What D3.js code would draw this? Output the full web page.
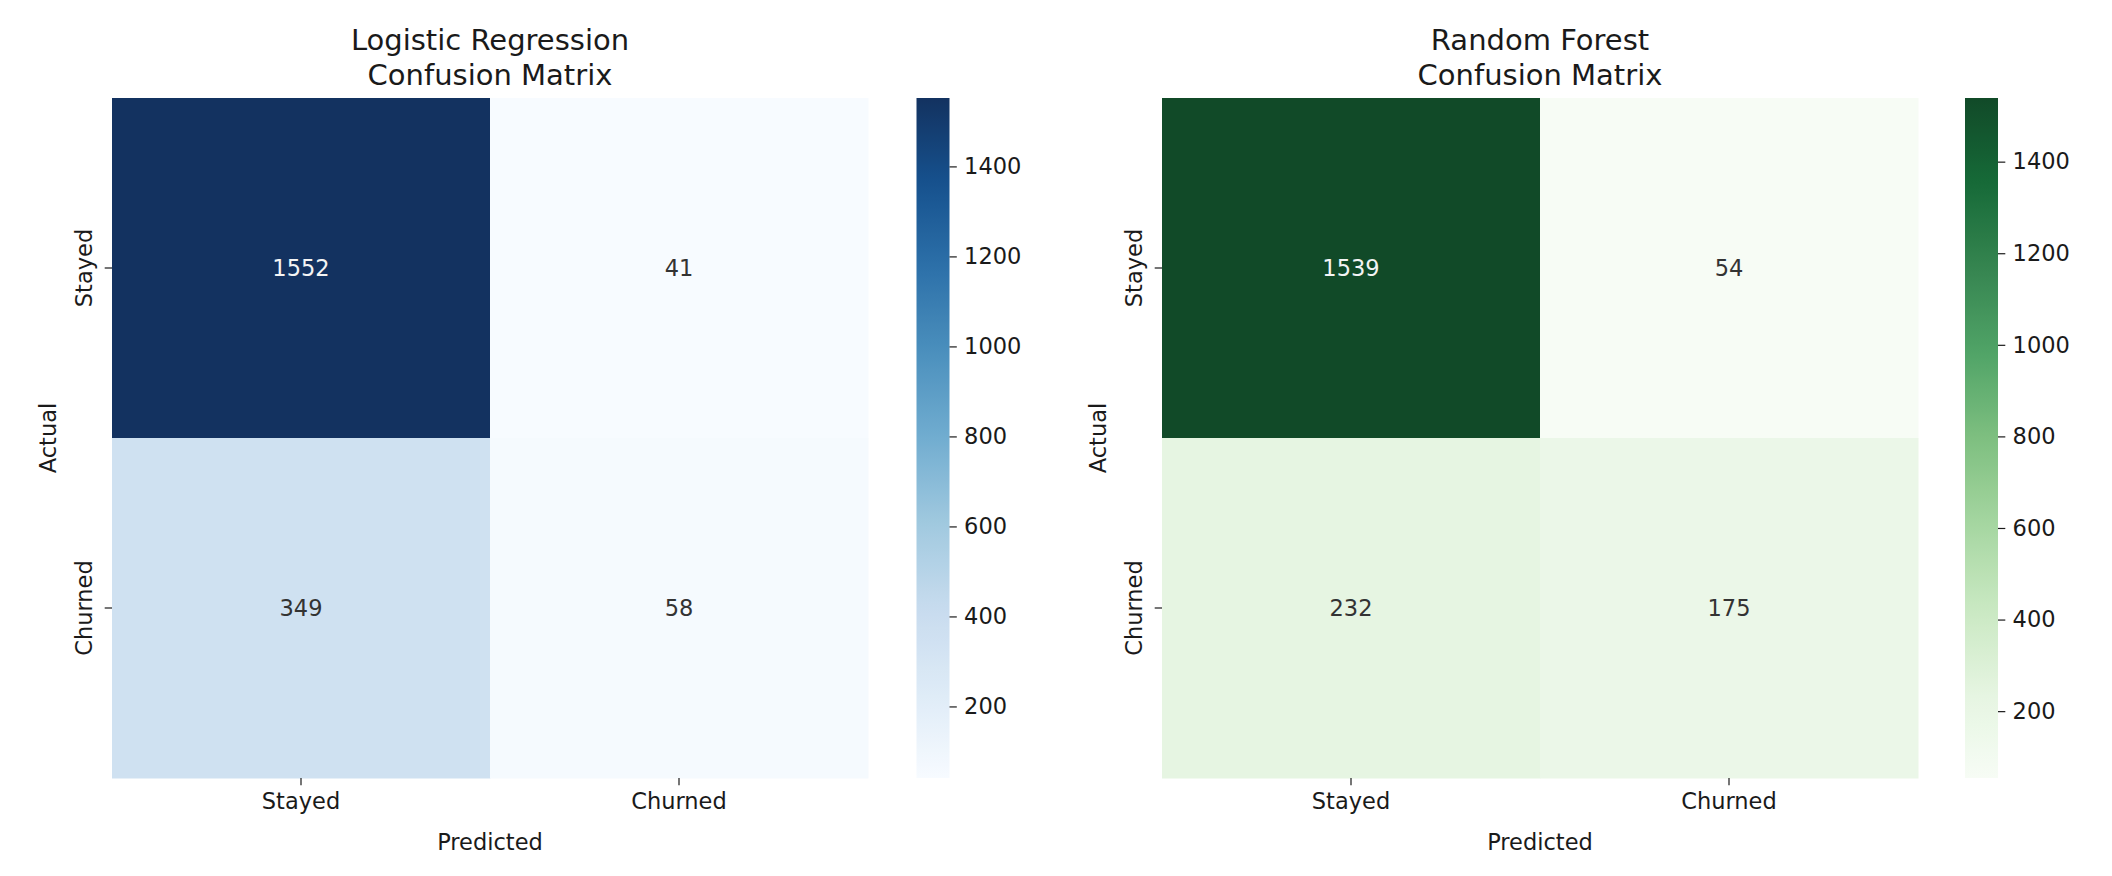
<!DOCTYPE html>
<html lang="en">
<head>
<meta charset="utf-8">
<script src="https://d3js.org/d3.v7.min.js"></script>
<style>
    body { margin: 0; background: #fff; }
    svg text { font-family: 'DejaVu Sans', sans-serif; }
    .tick text { font-size: 22.5px; fill: #1a1a1a; }
    .tick line { stroke: #1a1a1a; stroke-width: 1.2px; }
    .title { font-size: 29px; text-anchor: middle; fill: #1a1a1a; }
    .axis-label { font-size: 22.5px; text-anchor: middle; fill: #1a1a1a; }
    .cell-label { font-size: 22.5px; text-anchor: middle; dominant-baseline: central; }
</style>
</head>
<body>
<script>
    // data
    var classLabels = ["Stayed", "Churned"];
    var lrMatrix = [[1552, 41], [349, 58]];
    var rfMatrix = [[1539, 54], [232, 175]];
    var cbarTicks = [200, 400, 600, 800, 1000, 1200, 1400];

    // matplotlib colormaps (ColorBrewer 9 class, linear)
    var bluesStops = ["#f7fbff", "#deebf7", "#c6dbef", "#9ecae1", "#6baed6", "#4292c6", "#2171b5", "#08519c", "#08306b"];
    var greensStops = ["#f7fcf5", "#e5f5e0", "#c7e9c0", "#a1d99b", "#74c476", "#41ab5d", "#238b45", "#006d2c", "#00441b"];

    var W = 2112, H = 876;
    var svg = d3.select("body").append("svg").attr("width", W).attr("height", H);

    var yTop = 98, yBottom = 778, hmW = 756;
    var tickLen = 7.3, tickPad = 7.3;

    // the reference render has its dark end a little muted; light end left alone
    function softener(sat, lift) {
        return function(c) {
            var h = d3.hsl(c);
            var dark = 1 - h.l;
            h.s = h.s * (1 - (1 - sat) * dark);
            h.l = h.l + lift * dark * dark;
            return h.formatHex();
        };
    }

    function luminance(c) {
        var rgb = d3.rgb(c);
        var ch = [rgb.r, rgb.g, rgb.b].map(function(v) {
            v = v / 255;
            return v <= 0.03928 ? v / 12.92 : Math.pow((v + 0.055) / 1.055, 2.4);
        });
        return 0.2126 * ch[0] + 0.7152 * ch[1] + 0.0722 * ch[2];
    }

    function drawPanel(opts) {
        var matrix = opts.matrix;
        var flat = d3.merge(matrix);
        var vmin = d3.min(flat), vmax = d3.max(flat);
        var stops = opts.stops.map(opts.soften);
        var color = d3.scaleLinear()
            .domain(stops.map(function(d, i) { return vmin + (vmax - vmin) * i / (stops.length - 1); }))
            .range(stops)
            .interpolate(d3.interpolateRgb)
            .clamp(true);

        var g = svg.append("g");
        var x = d3.scaleBand().domain(classLabels).range([opts.left, opts.left + hmW]).padding(0);
        var y = d3.scaleBand().domain(classLabels).range([yTop, yBottom]).padding(0);

        var cells = [];
        matrix.forEach(function(row, i) {
            row.forEach(function(v, j) {
                cells.push({actual: classLabels[i], pred: classLabels[j], value: v});
            });
        });

        g.selectAll("rect.cell").data(cells).enter().append("rect")
            .attr("class", "cell")
            .attr("x", function(d) { return x(d.pred); })
            .attr("y", function(d) { return y(d.actual); })
            .attr("width", x.bandwidth() + 0.5)
            .attr("height", y.bandwidth() + 0.5)
            .attr("fill", function(d) { return color(d.value); });

        g.selectAll("text.cell-label").data(cells).enter().append("text")
            .attr("class", "cell-label")
            .attr("x", function(d) { return x(d.pred) + x.bandwidth() / 2; })
            .attr("y", function(d) { return y(d.actual) + y.bandwidth() / 2; })
            .attr("fill", function(d) { return luminance(color(d.value)) > 0.408 ? "#333333" : "#f4f4f4"; })
            .text(function(d) { return d.value; });

        // x axis
        g.append("g")
            .attr("transform", "translate(0," + yBottom + ")")
            .call(d3.axisBottom(x).tickSize(tickLen).tickPadding(tickPad))
            .call(function(a) { a.select(".domain").remove(); });

        // y axis with rotated labels
        var ya = g.append("g")
            .attr("transform", "translate(" + opts.left + ",0)")
            .call(d3.axisLeft(y).tickSize(tickLen).tickPadding(tickPad))
            .call(function(a) { a.select(".domain").remove(); });
        ya.selectAll(".tick text")
            .attr("x", null).attr("dy", null)
            .attr("text-anchor", "middle")
            .attr("transform", "translate(" + (-tickLen - tickPad - 5.3) + ",0) rotate(-90)");

        // axis labels
        var cx = opts.left + hmW / 2;
        g.append("text").attr("class", "axis-label")
            .attr("x", cx).attr("y", 850)
            .text("Predicted");
        g.append("text").attr("class", "axis-label")
            .attr("transform", "translate(" + (opts.left - 56) + "," + ((yTop + yBottom) / 2) + ") rotate(-90)")
            .text("Actual");

        // title
        var t = g.append("text").attr("class", "title");
        t.append("tspan").attr("x", cx).attr("y", 50).text(opts.title);
        t.append("tspan").attr("x", cx).attr("y", 85).text("Confusion Matrix");

        // colorbar
        var gradId = "grad-" + opts.key;
        var grad = svg.append("defs").append("linearGradient")
            .attr("id", gradId)
            .attr("x1", 0).attr("y1", 1).attr("x2", 0).attr("y2", 0);
        d3.range(0, 1.0001, 0.02).forEach(function(f) {
            grad.append("stop")
                .attr("offset", f)
                .attr("stop-color", color(vmin + f * (vmax - vmin)));
        });
        var cbScale = d3.scaleLinear().domain([vmin, vmax]).range([yBottom, yTop]);
        g.append("rect")
            .attr("x", opts.cbLeft).attr("y", yTop)
            .attr("width", 33).attr("height", yBottom - yTop)
            .attr("fill", "url(#" + gradId + ")");
        g.append("g")
            .attr("transform", "translate(" + (opts.cbLeft + 33) + ",0)")
            .call(d3.axisRight(cbScale).tickValues(cbarTicks).tickFormat(d3.format("d"))
                .tickSize(tickLen).tickPadding(tickPad))
            .call(function(a) { a.select(".domain").remove(); });
    }

    drawPanel({key: "lr", title: "Logistic Regression", matrix: lrMatrix, stops: bluesStops,
        soften: softener(0.72, 0), left: 112, cbLeft: 916.5});
    drawPanel({key: "rf", title: "Random Forest", matrix: rfMatrix, stops: greensStops,
        soften: softener(0.56, 0.06), left: 1162, cbLeft: 1965});
</script>
</body>
</html>
